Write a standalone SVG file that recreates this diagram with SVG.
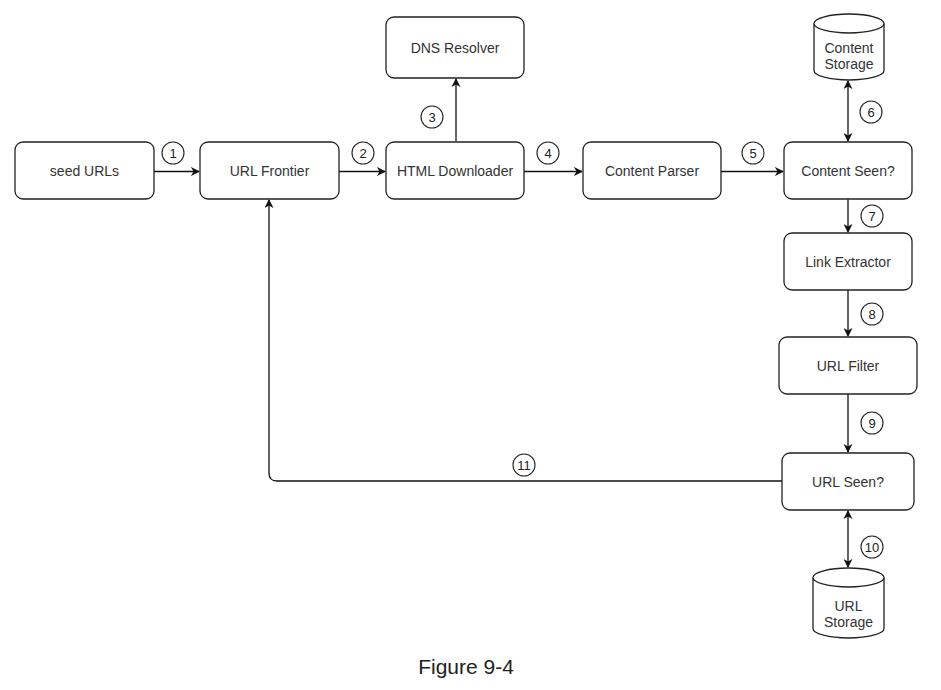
<svg xmlns="http://www.w3.org/2000/svg" width="941" height="690" viewBox="0 0 941 690">
<defs>
<style>
.box{fill:#fff;stroke:#222;stroke-width:1.3}
.t{font-family:"Liberation Sans",Arial,sans-serif;font-size:14px;fill:#333;text-anchor:middle}
.c{fill:#fff;stroke:#222;stroke-width:1.1}
.ct{font-family:"Liberation Sans",Arial,sans-serif;font-size:13px;fill:#222;text-anchor:middle}
.ln{fill:none;stroke:#111;stroke-width:1.3}
</style>
<marker id="ah" viewBox="0 0 10 10" refX="9" refY="5" markerWidth="9" markerHeight="9" markerUnits="userSpaceOnUse" orient="auto-start-reverse">
<path d="M0,0 L10,5 L0,10 L3,5 Z" fill="#111"/>
</marker>
</defs>
<rect width="941" height="690" fill="#fff"/>
<g id="connectors">
<line class="ln" x1="154" y1="171.5" x2="199" y2="171.5" marker-end="url(#ah)"/>
<line class="ln" x1="339" y1="171.5" x2="385" y2="171.5" marker-end="url(#ah)"/>
<line class="ln" x1="456" y1="141" x2="456" y2="79" marker-end="url(#ah)"/>
<line class="ln" x1="524" y1="171.5" x2="582" y2="171.5" marker-end="url(#ah)"/>
<line class="ln" x1="721" y1="171.5" x2="783" y2="171.5" marker-end="url(#ah)"/>
<line class="ln" x1="848" y1="81" x2="848" y2="141" marker-start="url(#ah)" marker-end="url(#ah)"/>
<line class="ln" x1="848" y1="199" x2="848" y2="232" marker-end="url(#ah)"/>
<line class="ln" x1="848" y1="290" x2="848" y2="336" marker-end="url(#ah)"/>
<line class="ln" x1="848" y1="394" x2="848" y2="452" marker-end="url(#ah)"/>
<line class="ln" x1="848" y1="511" x2="848" y2="567" marker-start="url(#ah)" marker-end="url(#ah)"/>
<path class="ln" d="M782,481 L277,481 Q269,481 269,473 L269,200" marker-end="url(#ah)"/>
<g id="labels">
<circle class="c" cx="173" cy="153" r="11"/><text class="ct" x="173" y="157.5">1</text>
<circle class="c" cx="363" cy="153" r="11"/><text class="ct" x="363" y="157.5">2</text>
<circle class="c" cx="432" cy="117" r="11"/><text class="ct" x="432" y="121.5">3</text>
<circle class="c" cx="548" cy="153" r="11"/><text class="ct" x="548" y="157.5">4</text>
<circle class="c" cx="753" cy="153" r="11"/><text class="ct" x="753" y="157.5">5</text>
<circle class="c" cx="871" cy="112" r="11"/><text class="ct" x="871" y="116.5">6</text>
<circle class="c" cx="872" cy="216" r="11"/><text class="ct" x="872" y="220.5">7</text>
<circle class="c" cx="872" cy="314" r="11"/><text class="ct" x="872" y="318.5">8</text>
<circle class="c" cx="872" cy="423" r="11"/><text class="ct" x="872" y="427.5">9</text>
<circle class="c" cx="872" cy="547" r="11"/><text class="ct" x="872" y="551.5">10</text>
<circle class="c" cx="524" cy="465" r="11"/><text class="ct" x="524" y="469.5">11</text>
</g>
</g>
<g id="seed"><rect class="box" x="15" y="142" width="139" height="57" rx="8"/><text class="t" x="84.5" y="175.5">seed URLs</text></g>
<g id="frontier"><rect class="box" x="200" y="142" width="139" height="57" rx="8"/><text class="t" x="269.5" y="175.5">URL Frontier</text></g>
<g id="dns"><rect class="box" x="386" y="17" width="138" height="61" rx="8"/><text class="t" x="455" y="52.5">DNS Resolver</text></g>
<g id="downloader"><rect class="box" x="386" y="142" width="138" height="57" rx="8"/><text class="t" x="455" y="175.5">HTML Downloader</text></g>
<g id="parser"><rect class="box" x="583" y="142" width="138" height="57" rx="8"/><text class="t" x="652" y="175.5">Content Parser</text></g>
<g id="contentseen"><rect class="box" x="784" y="142" width="128" height="57" rx="8"/><text class="t" x="848" y="175.5">Content Seen?</text></g>
<g id="contentstorage">
<path class="box" d="M814,23.5 L814,70.5 A35,9.5 0 0 0 884,70.5 L884,23.5 A35,9.5 0 0 0 814,23.5 Z"/>
<path class="box" d="M814,23.5 A35,9.5 0 0 0 884,23.5" fill="none"/>
<text class="t" x="849" y="53">Content</text><text class="t" x="849" y="69">Storage</text>
</g>
<g id="linkextractor"><rect class="box" x="784" y="233" width="128" height="57" rx="8"/><text class="t" x="848" y="266.5">Link Extractor</text></g>
<g id="urlfilter"><rect class="box" x="779" y="337" width="138" height="57" rx="8"/><text class="t" x="848" y="370.5">URL Filter</text></g>
<g id="urlseen"><rect class="box" x="782" y="453" width="132" height="57" rx="8"/><text class="t" x="848" y="486.5">URL Seen?</text></g>
<g id="urlstorage">
<path class="box" d="M813,577.5 L813,628.5 A35.5,9.5 0 0 0 884,628.5 L884,577.5 A35.5,9.5 0 0 0 813,577.5 Z"/>
<path class="box" d="M813,577.5 A35.5,9.5 0 0 0 884,577.5" fill="none"/>
<text class="t" x="848.5" y="611">URL</text><text class="t" x="848.5" y="627">Storage</text>
</g>
<text x="466" y="674" font-family="'Liberation Sans',Arial,sans-serif" font-size="21" fill="#222" text-anchor="middle">Figure 9-4</text>
</svg>
